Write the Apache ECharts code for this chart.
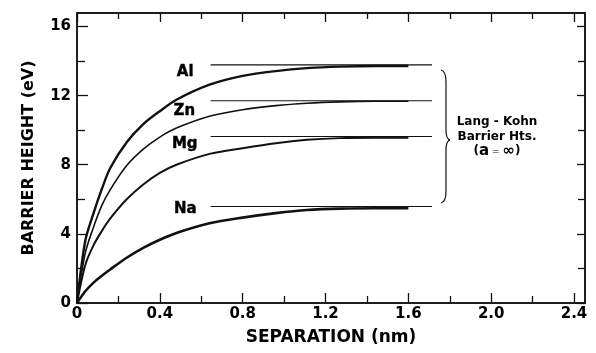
<!DOCTYPE html>
<html>
<head>
<meta charset="utf-8">
<script src="https://cdn.jsdelivr.net/npm/echarts@6/dist/echarts.min.js"></script>
<style>
html,body{margin:0;padding:0;background:#fff;}
#chart{width:596px;height:353px;}
</style>
</head>
<body>
<div id="chart"></div>
<script>
// ---- data ----
const separation = [0, 0.04, 0.08, 0.12, 0.16, 0.24, 0.32, 0.40, 0.48, 0.64, 0.80, 0.96, 1.11, 1.27, 1.44, 1.60];
const alHeight = [0, 3.6, 5.2, 6.6, 7.8, 9.3, 10.35, 11.1, 11.76, 12.63, 13.14, 13.42, 13.59, 13.68, 13.71, 13.71];
const znHeight = [0, 2.9, 4.4, 5.65, 6.55, 7.95, 8.9, 9.6, 10.12, 10.8, 11.18, 11.42, 11.56, 11.64, 11.67, 11.67];
const mgHeight = [0, 2.2, 3.35, 4.17, 4.88, 6.0, 6.86, 7.53, 8.0, 8.63, 8.96, 9.25, 9.44, 9.54, 9.56, 9.56];
const naHeight = [0, 0.68, 1.18, 1.58, 1.94, 2.62, 3.19, 3.66, 4.05, 4.61, 4.94, 5.2, 5.38, 5.46, 5.48, 5.48];
const metals = ['Al', 'Zn', 'Mg', 'Na'];
const langKohnHeights = [13.78, 11.70, 9.63, 5.58];
const langKohnRange = [0.645, 1.714];
const xMajorTicks = [0, 0.4, 0.8, 1.2, 1.6, 2.0, 2.4];
const xMinorTicks = [0.2, 0.6, 1.0, 1.4, 1.8, 2.2];
const xTickLabels = ['0', '0.4', '0.8', '1.2', '1.6', '2.0', '2.4'];
const yMajorTicks = [0, 4, 8, 12, 16];
const yMinorTicks = [2, 6, 10, 14];
const yTickLabels = ['0', '4', '8', '12', '16'];
const xRange = [0, 2.453];
const yRange = [0, 16.78];

// ---- chart ----
const FONT = '"DejaVu Sans", "Liberation Sans", Arial, sans-serif';
const chart = echarts.init(document.getElementById('chart'), null, {renderer: 'canvas'});

function xAxisDef(pos, ticks, len, labels) {
  return {
    type: 'value', position: pos, min: xRange[0], max: xRange[1],
    axisLine: {show: true, onZero: false, lineStyle: {color: '#111', width: 1.5}},
    axisTick: {show: true, inside: true, length: len, customValues: ticks, lineStyle: {color: '#111', width: 1.3}},
    axisLabel: labels ? {
      show: true, customValues: xMajorTicks, margin: 4,
      formatter: v => { const k = xMajorTicks.findIndex(t => Math.abs(t - v) < 1e-6); return k >= 0 ? xTickLabels[k] : ''; },
      color: '#000', fontFamily: FONT, fontWeight: 'bold', fontSize: 15
    } : {show: false},
    splitLine: {show: false}
  };
}
function yAxisDef(pos, ticks, len, labels) {
  return {
    type: 'value', position: pos, min: yRange[0], max: yRange[1],
    axisLine: {show: true, onZero: false, lineStyle: {color: '#111', width: 1.5}},
    axisTick: {show: true, inside: true, length: len, customValues: ticks, lineStyle: {color: '#111', width: 1.3}},
    axisLabel: labels ? {
      show: true, customValues: yMajorTicks, margin: 6,
      formatter: v => { const k = yMajorTicks.findIndex(t => Math.abs(t - v) < 1e-6); return k >= 0 ? yTickLabels[k] : ''; },
      color: '#000', fontFamily: FONT, fontWeight: 'bold', fontSize: 15
    } : {show: false},
    splitLine: {show: false}
  };
}

const xAxes = [
  Object.assign(xAxisDef('bottom', xMajorTicks, 10, true), {
    name: 'SEPARATION (nm)', nameLocation: 'middle', nameGap: 26,
    nameTextStyle: {color: '#000', fontFamily: FONT, fontWeight: 'bold', fontSize: 17}
  }),
  xAxisDef('bottom', xMinorTicks, 7, false),
  xAxisDef('top', xMajorTicks, 9, false),
  xAxisDef('top', xMinorTicks, 6, false)
];
const yAxes = [
  Object.assign(yAxisDef('left', yMajorTicks, 11, true), {
    name: 'BARRIER HEIGHT (eV)', nameLocation: 'middle', nameGap: 40, nameRotate: 90,
    nameTextStyle: {color: '#000', fontFamily: FONT, fontWeight: 'bold', fontSize: 16}
  }),
  yAxisDef('left', yMinorTicks, 8, false),
  yAxisDef('right', yMajorTicks, 8, false),
  yAxisDef('right', yMinorTicks, 7, false)
];

const curveSets = [alHeight, znHeight, mgHeight, naHeight];
const curveWidths = [2.4, 1.6, 2.0, 2.6];
const series = curveSets.map((arr, i) => ({
  name: metals[i], type: 'line', xAxisIndex: 0, yAxisIndex: 0,
  data: separation.map((x, j) => [x, arr[j]]),
  smooth: 0.3, showSymbol: false, symbol: 'none',
  lineStyle: {color: '#111', width: curveWidths[i]},
  z: 3
}));
langKohnHeights.forEach((h, i) => {
  series.push({
    name: metals[i] + ' Lang-Kohn', type: 'line', xAxisIndex: 0, yAxisIndex: 0,
    data: [[langKohnRange[0], h], [langKohnRange[1], h]],
    showSymbol: false, symbol: 'none',
    lineStyle: {color: '#111', width: 1.1}, z: 2
  });
});
const labelTweaks = [
  {distance: 17, offset: [0, 7.5]},
  {distance: 15.5, offset: [0, 10.5]},
  {distance: 13, offset: [0, 7.5]},
  {distance: 14, offset: [0, 2.5]}
];
series.push({
  name: 'labels', type: 'scatter', xAxisIndex: 0, yAxisIndex: 0,
  symbolSize: 0, itemStyle: {color: '#000', opacity: 1},
  silent: true,
  emphasis: {disabled: true},
  data: metals.map((m, i) => ({
    name: m, value: [langKohnRange[0], langKohnHeights[i]],
    label: Object.assign({show: true, position: 'left', formatter: '{b}', opacity: 1,
      color: '#000', textBorderColor: '#000', textBorderWidth: 0.4,
      fontFamily: FONT, fontWeight: 'bold', fontSize: 15}, labelTweaks[i])
  })),
  z: 4
});

const braceStyle = {fill: 'none', stroke: '#111', lineWidth: 1.2};
chart.setOption({
  backgroundColor: '#fff',
  animation: false,
  grid: {left: 77, right: 11, top: 13, bottom: 50, show: false},
  xAxis: xAxes,
  yAxis: yAxes,
  series: series,
  graphic: [
    {type: 'bezierCurve', silent: true, shape: {x1: 441, y1: 70, cpx1: 446, cpy1: 71, x2: 446, y2: 82}, style: braceStyle},
    {type: 'line', silent: true, shape: {x1: 446, y1: 82, x2: 446, y2: 130}, style: braceStyle},
    {type: 'bezierCurve', silent: true, shape: {x1: 446, y1: 130, cpx1: 446, cpy1: 139, x2: 450, y2: 140}, style: braceStyle},
    {type: 'bezierCurve', silent: true, shape: {x1: 450, y1: 140, cpx1: 446, cpy1: 141, x2: 446, y2: 150}, style: braceStyle},
    {type: 'line', silent: true, shape: {x1: 446, y1: 150, x2: 446, y2: 191}, style: braceStyle},
    {type: 'bezierCurve', silent: true, shape: {x1: 446, y1: 191, cpx1: 446, cpy1: 202, x2: 441, y2: 203}, style: braceStyle},
    {
      type: 'text', silent: true,
      x: 497, y: 115,
      style: {
        text: 'Lang - Kohn\nBarrier Hts.\n({a|a}{eq| = }{inf|∞})',
        align: 'center', verticalAlign: 'top',
        font: 'bold 12px ' + FONT, fill: '#000', lineHeight: 14.5,
        rich: {
          a: {font: 'bold 15px ' + FONT, fill: '#000', lineHeight: 14.5},
          eq: {font: '9px ' + FONT, fill: '#000', lineHeight: 14.5},
          inf: {font: 'bold 15px ' + FONT, fill: '#000', lineHeight: 14.5}
        }
      }
    }
  ]
});
</script>
</body>
</html>
